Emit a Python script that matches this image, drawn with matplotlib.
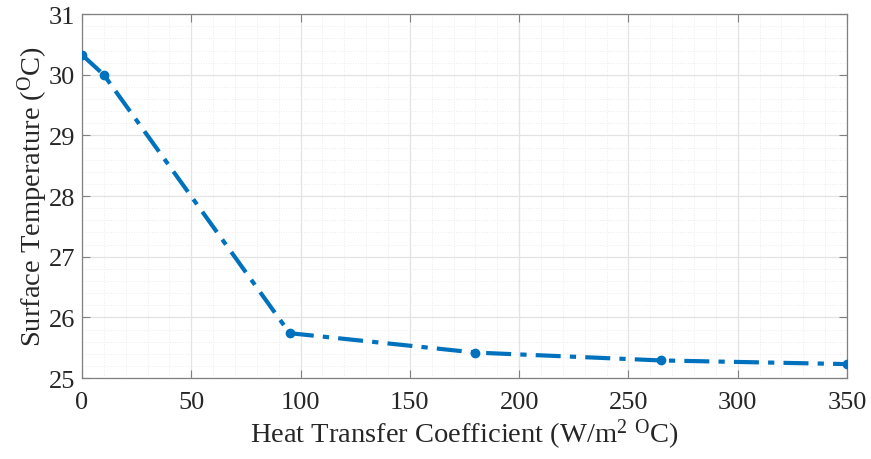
import matplotlib
matplotlib.use("Agg")
import matplotlib.pyplot as plt
from matplotlib.ticker import MultipleLocator

# Surface temperature vs. heat transfer coefficient
h_coeff = [0, 10, 95, 180, 265, 350]
surface_temp = [30.33, 30.0, 25.74, 25.42, 25.29, 25.23]
x_ticks = [0, 50, 100, 150, 200, 250, 300, 350]
y_ticks = [25, 26, 27, 28, 29, 30, 31]

plt.rcParams["font.family"] = ["Liberation Serif", "DejaVu Serif"]
plt.rcParams["mathtext.fontset"] = "custom"
plt.rcParams["mathtext.rm"] = "Liberation Serif"
plt.rcParams["mathtext.it"] = "Liberation Serif:italic"

text_color = "#262626"
line_color = "#0072BD"

fig = plt.figure(figsize=(8.71, 4.60), dpi=100)
ax = fig.add_axes([0.0941, 0.176, 0.8784, 0.791])

ax.plot(h_coeff, surface_temp, linestyle=(0, (6, 2.2, 1.5, 2.2)), color=line_color,
        linewidth=3.0, marker="o", markersize=6, zorder=3)

ax.set_xlim(0, 350)
ax.set_ylim(25, 31)
ax.set_xticks(x_ticks)
ax.set_yticks(y_ticks)
ax.xaxis.set_minor_locator(MultipleLocator(10))
ax.yaxis.set_minor_locator(MultipleLocator(0.2))

ax.grid(which="major", color="#e3e3e3", linewidth=0.9, linestyle="-")
ax.grid(which="minor", color="#ececec", linewidth=0.7, linestyle=":")
ax.set_axisbelow(True)

ax.tick_params(which="major", direction="in", length=6, width=0.8,
               top=True, right=True, labelsize=19, colors="#808080",
               labelcolor=text_color, pad=5)
ax.tick_params(axis="x", which="major", pad=9)
ax.tick_params(which="minor", length=0, top=True, right=True)
for sp in ax.spines.values():
    sp.set_color("#808080")
    sp.set_linewidth(0.9)

ax.set_xlabel(r"Heat Transfer Coefficient (W/m$^{2}$ $^{\mathrm{O}}$C)",
              fontsize=20.5, color=text_color, labelpad=3)
ax.set_ylabel(r"Surface Temperature ($^{\mathrm{O}}$C)",
              fontsize=20.5, color=text_color, labelpad=-1)

fig.savefig("out.png", dpi=100)
